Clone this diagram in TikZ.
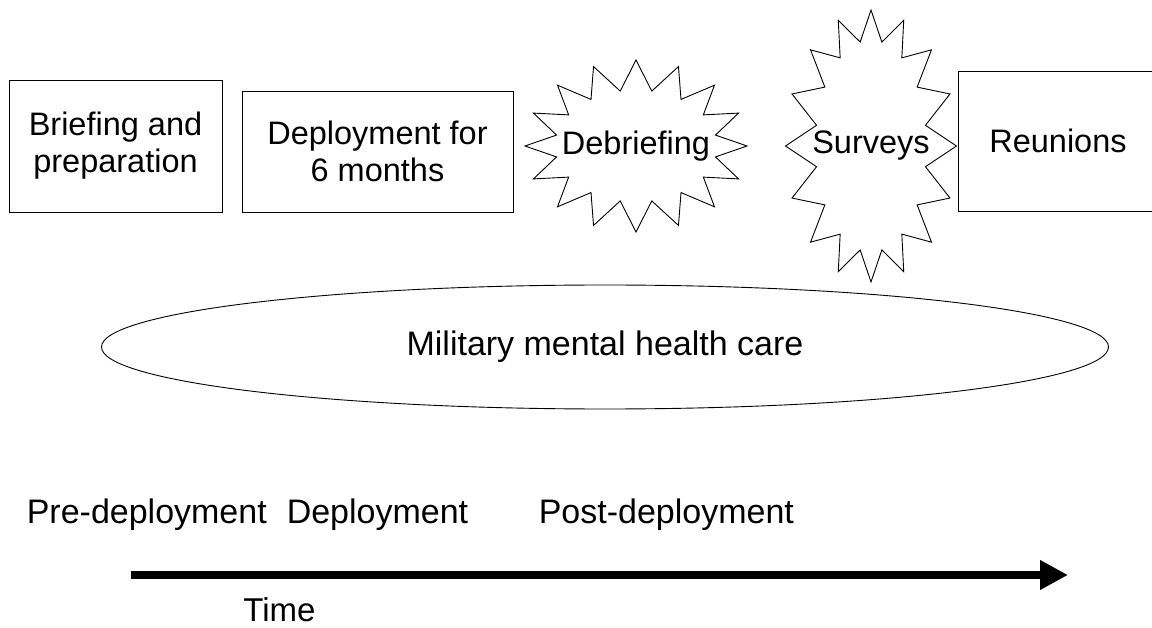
\documentclass[tikz,border=0pt]{standalone}
\usepackage{fontspec}
\setmainfont{Liberation Sans}
\usetikzlibrary{shapes.geometric,shapes.symbols,arrows.meta}

\begin{document}
\begin{tikzpicture}[x=1pt,y=-1pt,line width=0.9pt,
  every node/.style={font=\fontsize{32.5}{37}\selectfont},
  stage/.style={font=\fontsize{34}{40}\selectfont,anchor=base west},
  phase/.style={draw,align=center,inner sep=0pt},
  burst/.style={draw,starburst,starburst points=16,random starburst=0,
    starburst point height=30pt,inner sep=0pt}]
\useasboundingbox (0,0) rectangle (1152,628);
\node[phase,minimum width=213pt,minimum height=132pt] (brief) at (115.5,146) {Briefing and\\preparation};
\node[phase,minimum width=271pt,minimum height=121pt] (deploy) at (377.5,151.5) {Deployment for\\6 months};
\node[burst,minimum width=222pt,minimum height=172pt] (debrief) at (636,146) {\makebox[0pt]{Debriefing}};
\node[burst,minimum width=171pt,minimum height=272pt] (survey) at (871,146) {\makebox[0pt]{Surveys}};
\node[phase,minimum width=200pt,minimum height=140pt] (reunion) at (1058,141) {Reunions};
\node[draw,ellipse,minimum width=1007pt,minimum height=124pt,font=\fontsize{34}{40}\selectfont] (care) at (605,347) {Military mental health care};
\node[stage] (pre) at (23,523) {Pre-deployment};
\node[stage] (during) at (283,523) {Deployment};
\node[stage] (post) at (535,523) {Post-deployment};
\coordinate (tstart) at (131,575);
\coordinate (tend) at (1068,575);
\draw[line width=8pt,-{Triangle[length=28pt,width=28pt]}] (tstart) -- (tend);
\node[anchor=base west,inner sep=0pt,font=\fontsize{33}{40}\selectfont] (time) at (243,621) {Time};
\end{tikzpicture}
\end{document}
